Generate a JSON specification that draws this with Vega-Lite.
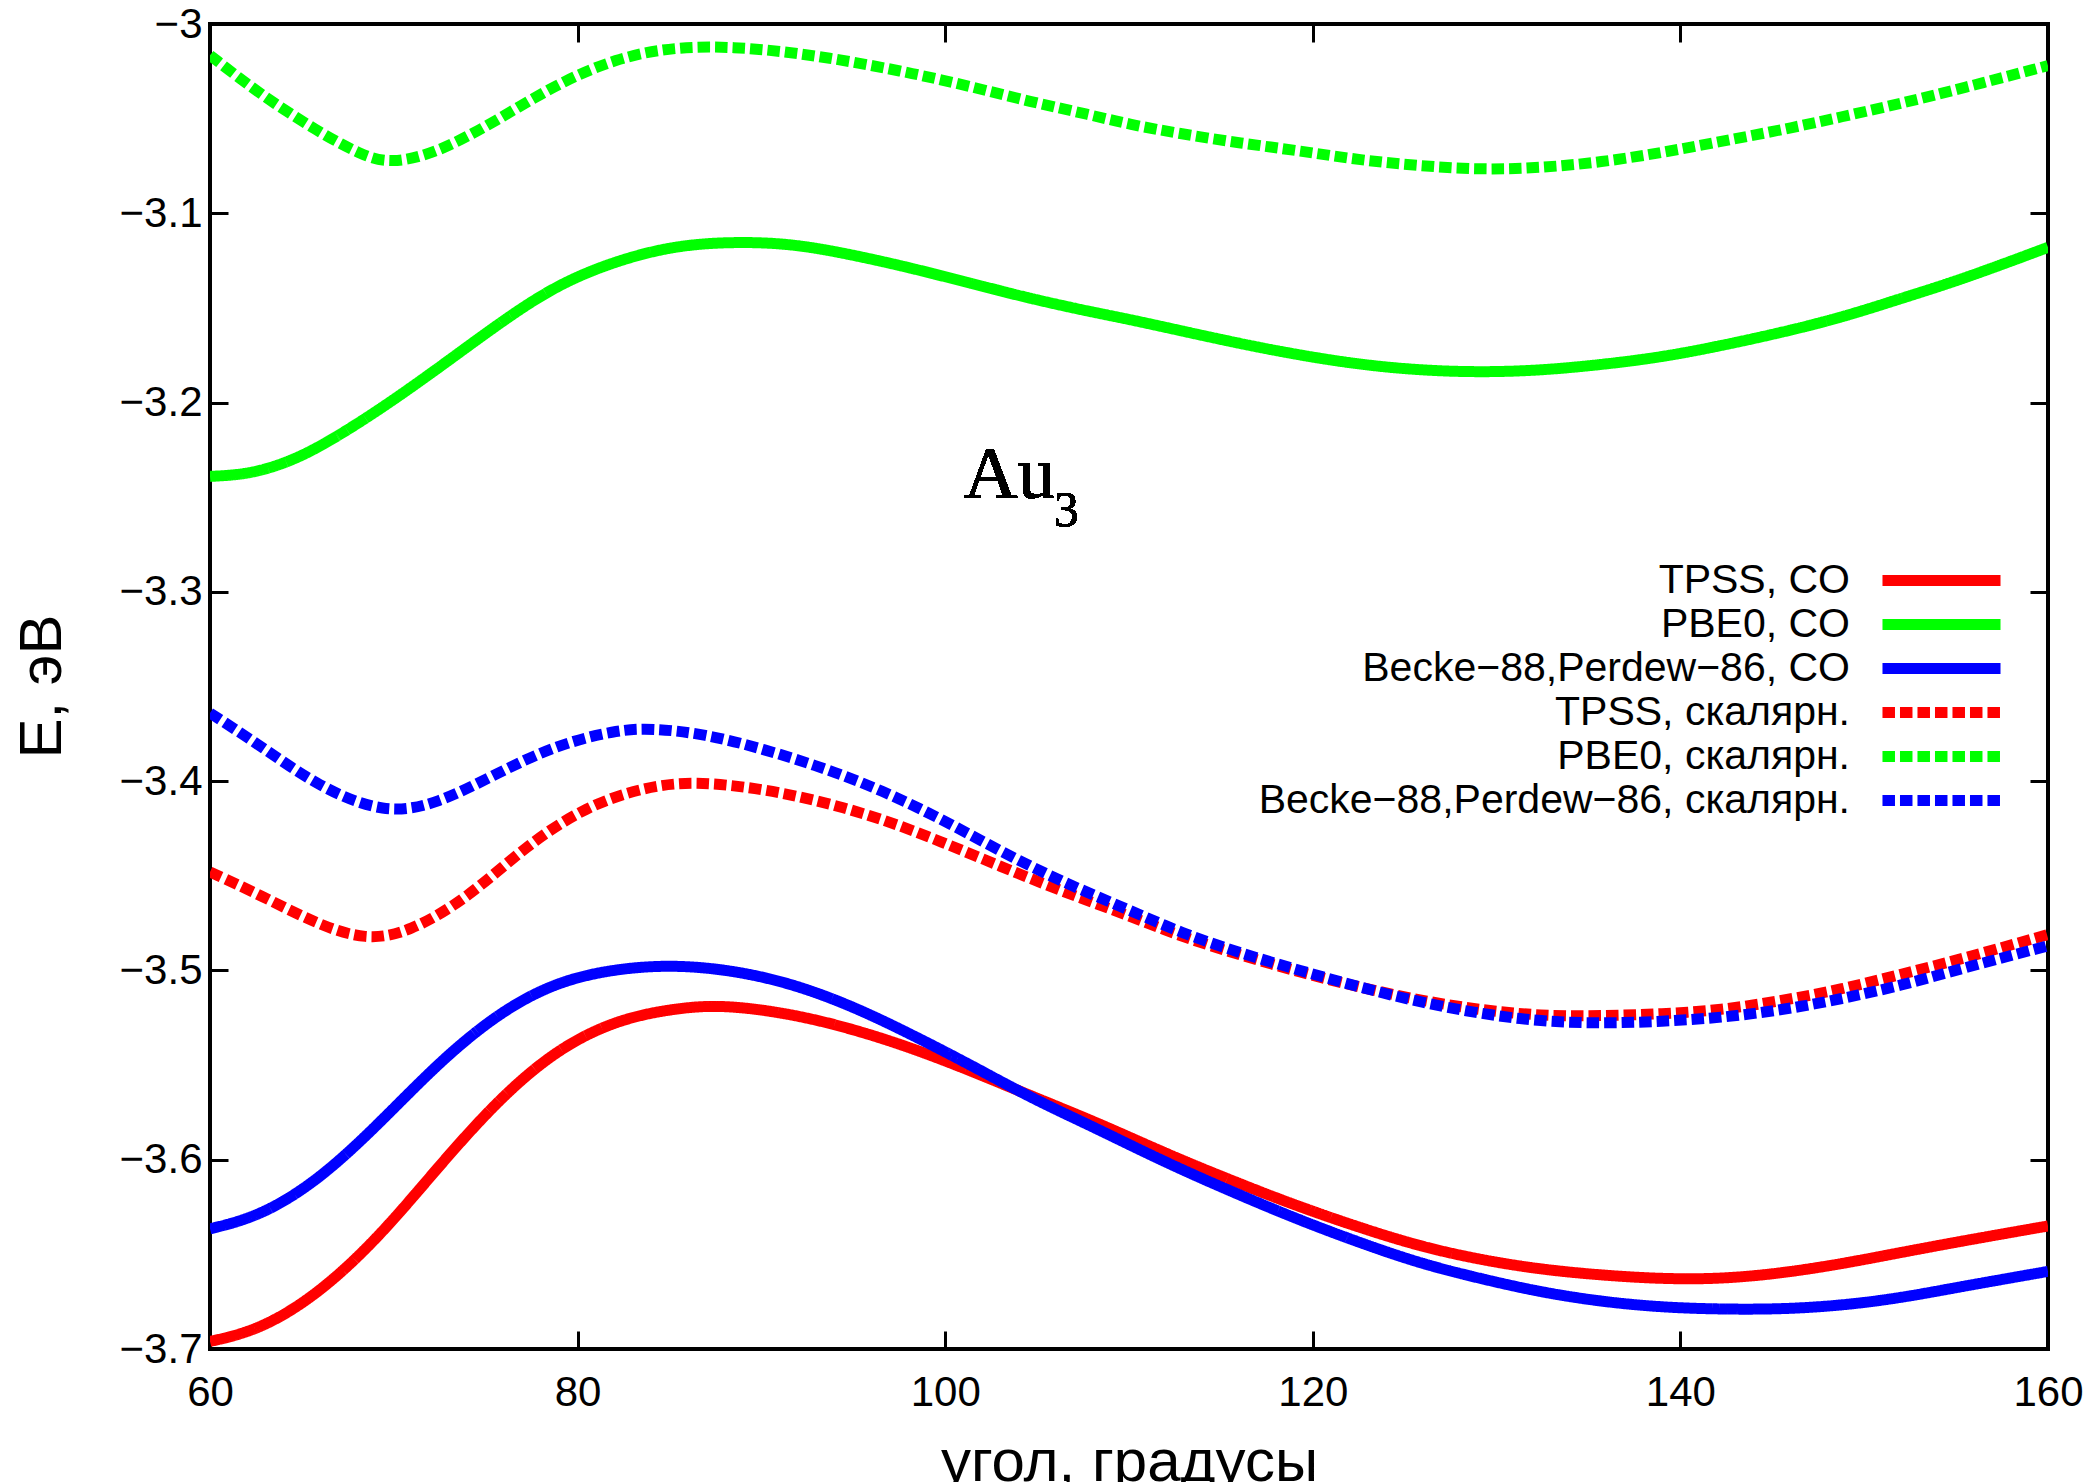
{
  "$schema": "https://vega.github.io/schema/vega-lite/v6.json",
  "width": 1838,
  "height": 1325,
  "autosize": {"type": "none"},
  "padding": {"left": 210, "top": 24, "right": 51, "bottom": 133},
  "background": "white",
  "config": {
    "view": {"stroke": "black", "strokeWidth": 4},
    "axis": {
      "domain": false,
      "grid": false,
      "labelFlush": false,
      "tickColor": "black",
      "tickWidth": 3,
      "tickSize": -18,
      "labelFont": "Liberation Sans",
      "labelFontSize": 42,
      "labelColor": "black",
      "titleFont": "Liberation Sans",
      "titleFontSize": 60,
      "titleFontWeight": "normal",
      "titleColor": "black"
    },
    "legend": {
      "labelFont": "Liberation Sans",
      "labelFontSize": 41,
      "labelColor": "black",
      "labelLimit": 0
    }
  },
  "data": {
    "values": [
      {"s": "TPSS, CO", "x": 60, "e": -3.696},
      {"s": "TPSS, CO", "x": 62.7, "e": -3.690},
      {"s": "TPSS, CO", "x": 65.9, "e": -3.671},
      {"s": "TPSS, CO", "x": 69.2, "e": -3.641},
      {"s": "TPSS, CO", "x": 72.4, "e": -3.604},
      {"s": "TPSS, CO", "x": 75.6, "e": -3.569},
      {"s": "TPSS, CO", "x": 78.8, "e": -3.542},
      {"s": "TPSS, CO", "x": 82.1, "e": -3.526},
      {"s": "TPSS, CO", "x": 85.3, "e": -3.520},
      {"s": "TPSS, CO", "x": 87.9, "e": -3.518},
      {"s": "TPSS, CO", "x": 91.7, "e": -3.523},
      {"s": "TPSS, CO", "x": 95, "e": -3.531},
      {"s": "TPSS, CO", "x": 98.2, "e": -3.541},
      {"s": "TPSS, CO", "x": 101.4, "e": -3.553},
      {"s": "TPSS, CO", "x": 104.6, "e": -3.566},
      {"s": "TPSS, CO", "x": 107.9, "e": -3.579},
      {"s": "TPSS, CO", "x": 110, "e": -3.588},
      {"s": "TPSS, CO", "x": 112.8, "e": -3.600},
      {"s": "TPSS, CO", "x": 116.1, "e": -3.613},
      {"s": "TPSS, CO", "x": 119.3, "e": -3.625},
      {"s": "TPSS, CO", "x": 122.6, "e": -3.636},
      {"s": "TPSS, CO", "x": 125.9, "e": -3.646},
      {"s": "TPSS, CO", "x": 129.2, "e": -3.653},
      {"s": "TPSS, CO", "x": 132.4, "e": -3.658},
      {"s": "TPSS, CO", "x": 135.7, "e": -3.661},
      {"s": "TPSS, CO", "x": 139, "e": -3.663},
      {"s": "TPSS, CO", "x": 142.2, "e": -3.663},
      {"s": "TPSS, CO", "x": 145.5, "e": -3.660},
      {"s": "TPSS, CO", "x": 148.8, "e": -3.655},
      {"s": "TPSS, CO", "x": 152, "e": -3.649},
      {"s": "TPSS, CO", "x": 155.3, "e": -3.643},
      {"s": "TPSS, CO", "x": 160, "e": -3.635},

      {"s": "PBE0, CO", "x": 60, "e": -3.239},
      {"s": "PBE0, CO", "x": 62, "e": -3.238},
      {"s": "PBE0, CO", "x": 64, "e": -3.2325},
      {"s": "PBE0, CO", "x": 66, "e": -3.2235},
      {"s": "PBE0, CO", "x": 69.2, "e": -3.204},
      {"s": "PBE0, CO", "x": 72.4, "e": -3.182},
      {"s": "PBE0, CO", "x": 75.6, "e": -3.159},
      {"s": "PBE0, CO", "x": 78.8, "e": -3.138},
      {"s": "PBE0, CO", "x": 82.1, "e": -3.125},
      {"s": "PBE0, CO", "x": 85.3, "e": -3.117},
      {"s": "PBE0, CO", "x": 88.5, "e": -3.115},
      {"s": "PBE0, CO", "x": 91.7, "e": -3.116},
      {"s": "PBE0, CO", "x": 95, "e": -3.122},
      {"s": "PBE0, CO", "x": 98.2, "e": -3.129},
      {"s": "PBE0, CO", "x": 101.4, "e": -3.137},
      {"s": "PBE0, CO", "x": 104.6, "e": -3.145},
      {"s": "PBE0, CO", "x": 107.9, "e": -3.152},
      {"s": "PBE0, CO", "x": 110, "e": -3.156},
      {"s": "PBE0, CO", "x": 112.8, "e": -3.162},
      {"s": "PBE0, CO", "x": 116.1, "e": -3.169},
      {"s": "PBE0, CO", "x": 119.3, "e": -3.175},
      {"s": "PBE0, CO", "x": 122.6, "e": -3.180},
      {"s": "PBE0, CO", "x": 125.9, "e": -3.183},
      {"s": "PBE0, CO", "x": 129.2, "e": -3.184},
      {"s": "PBE0, CO", "x": 132.4, "e": -3.183},
      {"s": "PBE0, CO", "x": 135.7, "e": -3.180},
      {"s": "PBE0, CO", "x": 139, "e": -3.176},
      {"s": "PBE0, CO", "x": 142.2, "e": -3.170},
      {"s": "PBE0, CO", "x": 145.5, "e": -3.163},
      {"s": "PBE0, CO", "x": 148.8, "e": -3.155},
      {"s": "PBE0, CO", "x": 152, "e": -3.145},
      {"s": "PBE0, CO", "x": 155.3, "e": -3.135},
      {"s": "PBE0, CO", "x": 160, "e": -3.118},

      {"s": "Becke−88,Perdew−86, CO", "x": 60, "e": -3.6365},
      {"s": "Becke−88,Perdew−86, CO", "x": 62.7, "e": -3.630},
      {"s": "Becke−88,Perdew−86, CO", "x": 65.9, "e": -3.611},
      {"s": "Becke−88,Perdew−86, CO", "x": 69.2, "e": -3.581},
      {"s": "Becke−88,Perdew−86, CO", "x": 72.4, "e": -3.549},
      {"s": "Becke−88,Perdew−86, CO", "x": 75.6, "e": -3.523},
      {"s": "Becke−88,Perdew−86, CO", "x": 78.8, "e": -3.506},
      {"s": "Becke−88,Perdew−86, CO", "x": 82.1, "e": -3.499},
      {"s": "Becke−88,Perdew−86, CO", "x": 85.3, "e": -3.497},
      {"s": "Becke−88,Perdew−86, CO", "x": 88.5, "e": -3.500},
      {"s": "Becke−88,Perdew−86, CO", "x": 91.7, "e": -3.507},
      {"s": "Becke−88,Perdew−86, CO", "x": 95, "e": -3.519},
      {"s": "Becke−88,Perdew−86, CO", "x": 98.2, "e": -3.534},
      {"s": "Becke−88,Perdew−86, CO", "x": 101.4, "e": -3.550},
      {"s": "Becke−88,Perdew−86, CO", "x": 104.6, "e": -3.567},
      {"s": "Becke−88,Perdew−86, CO", "x": 107.9, "e": -3.582},
      {"s": "Becke−88,Perdew−86, CO", "x": 110, "e": -3.592},
      {"s": "Becke−88,Perdew−86, CO", "x": 112.8, "e": -3.605},
      {"s": "Becke−88,Perdew−86, CO", "x": 116.1, "e": -3.619},
      {"s": "Becke−88,Perdew−86, CO", "x": 119.3, "e": -3.632},
      {"s": "Becke−88,Perdew−86, CO", "x": 122.6, "e": -3.644},
      {"s": "Becke−88,Perdew−86, CO", "x": 125.9, "e": -3.655},
      {"s": "Becke−88,Perdew−86, CO", "x": 129.2, "e": -3.663},
      {"s": "Becke−88,Perdew−86, CO", "x": 132.4, "e": -3.670},
      {"s": "Becke−88,Perdew−86, CO", "x": 135.7, "e": -3.675},
      {"s": "Becke−88,Perdew−86, CO", "x": 139, "e": -3.678},
      {"s": "Becke−88,Perdew−86, CO", "x": 142.2, "e": -3.679},
      {"s": "Becke−88,Perdew−86, CO", "x": 145.5, "e": -3.679},
      {"s": "Becke−88,Perdew−86, CO", "x": 148.8, "e": -3.677},
      {"s": "Becke−88,Perdew−86, CO", "x": 152, "e": -3.673},
      {"s": "Becke−88,Perdew−86, CO", "x": 155.3, "e": -3.667},
      {"s": "Becke−88,Perdew−86, CO", "x": 160, "e": -3.659},

      {"s": "TPSS, скалярн.", "x": 60, "e": -3.448},
      {"s": "TPSS, скалярн.", "x": 62.7, "e": -3.460},
      {"s": "TPSS, скалярн.", "x": 65.9, "e": -3.476},
      {"s": "TPSS, скалярн.", "x": 68.5, "e": -3.484},
      {"s": "TPSS, скалярн.", "x": 70.8, "e": -3.480},
      {"s": "TPSS, скалярн.", "x": 74, "e": -3.462},
      {"s": "TPSS, скалярн.", "x": 77.2, "e": -3.434},
      {"s": "TPSS, скалярн.", "x": 80.5, "e": -3.413},
      {"s": "TPSS, скалярн.", "x": 83.7, "e": -3.403},
      {"s": "TPSS, скалярн.", "x": 86.3, "e": -3.400},
      {"s": "TPSS, скалярн.", "x": 90.1, "e": -3.404},
      {"s": "TPSS, скалярн.", "x": 93.4, "e": -3.411},
      {"s": "TPSS, скалярн.", "x": 96.6, "e": -3.420},
      {"s": "TPSS, скалярн.", "x": 99.8, "e": -3.432},
      {"s": "TPSS, скалярн.", "x": 103, "e": -3.445},
      {"s": "TPSS, скалярн.", "x": 106.3, "e": -3.458},
      {"s": "TPSS, скалярн.", "x": 110, "e": -3.471},
      {"s": "TPSS, скалярн.", "x": 112.8, "e": -3.482},
      {"s": "TPSS, скалярн.", "x": 116.1, "e": -3.492},
      {"s": "TPSS, скалярн.", "x": 119.3, "e": -3.501},
      {"s": "TPSS, скалярн.", "x": 122.6, "e": -3.509},
      {"s": "TPSS, скалярн.", "x": 125.9, "e": -3.516},
      {"s": "TPSS, скалярн.", "x": 129.2, "e": -3.521},
      {"s": "TPSS, скалярн.", "x": 132.4, "e": -3.524},
      {"s": "TPSS, скалярн.", "x": 135.7, "e": -3.524},
      {"s": "TPSS, скалярн.", "x": 139, "e": -3.523},
      {"s": "TPSS, скалярн.", "x": 142.2, "e": -3.521},
      {"s": "TPSS, скалярн.", "x": 145.5, "e": -3.516},
      {"s": "TPSS, скалярн.", "x": 148.8, "e": -3.510},
      {"s": "TPSS, скалярн.", "x": 152, "e": -3.502},
      {"s": "TPSS, скалярн.", "x": 155.3, "e": -3.494},
      {"s": "TPSS, скалярн.", "x": 160, "e": -3.481},

      {"s": "PBE0, скалярн.", "x": 60, "e": -3.0165},
      {"s": "PBE0, скалярн.", "x": 62.7, "e": -3.037},
      {"s": "PBE0, скалярн.", "x": 65.9, "e": -3.057},
      {"s": "PBE0, скалярн.", "x": 68.2, "e": -3.069},
      {"s": "PBE0, скалярн.", "x": 69.8, "e": -3.074},
      {"s": "PBE0, скалярн.", "x": 72.4, "e": -3.068},
      {"s": "PBE0, скалярн.", "x": 75.6, "e": -3.051},
      {"s": "PBE0, скалярн.", "x": 78.8, "e": -3.032},
      {"s": "PBE0, скалярн.", "x": 82.1, "e": -3.018},
      {"s": "PBE0, скалярн.", "x": 85.3, "e": -3.012},
      {"s": "PBE0, скалярн.", "x": 88.5, "e": -3.012},
      {"s": "PBE0, скалярн.", "x": 91.7, "e": -3.015},
      {"s": "PBE0, скалярн.", "x": 95, "e": -3.020},
      {"s": "PBE0, скалярн.", "x": 98.2, "e": -3.026},
      {"s": "PBE0, скалярн.", "x": 101.4, "e": -3.033},
      {"s": "PBE0, скалярн.", "x": 104.6, "e": -3.041},
      {"s": "PBE0, скалярн.", "x": 107.9, "e": -3.048},
      {"s": "PBE0, скалярн.", "x": 110, "e": -3.053},
      {"s": "PBE0, скалярн.", "x": 112.8, "e": -3.058},
      {"s": "PBE0, скалярн.", "x": 116.1, "e": -3.063},
      {"s": "PBE0, скалярн.", "x": 119.3, "e": -3.067},
      {"s": "PBE0, скалярн.", "x": 122.6, "e": -3.072},
      {"s": "PBE0, скалярн.", "x": 125.9, "e": -3.075},
      {"s": "PBE0, скалярн.", "x": 129.2, "e": -3.077},
      {"s": "PBE0, скалярн.", "x": 132.4, "e": -3.076},
      {"s": "PBE0, скалярн.", "x": 135.7, "e": -3.073},
      {"s": "PBE0, скалярн.", "x": 139, "e": -3.068},
      {"s": "PBE0, скалярн.", "x": 142.2, "e": -3.062},
      {"s": "PBE0, скалярн.", "x": 145.5, "e": -3.056},
      {"s": "PBE0, скалярн.", "x": 148.8, "e": -3.049},
      {"s": "PBE0, скалярн.", "x": 152, "e": -3.042},
      {"s": "PBE0, скалярн.", "x": 155.3, "e": -3.034},
      {"s": "PBE0, скалярн.", "x": 160, "e": -3.022},

      {"s": "Becke−88,Perdew−86, скалярн.", "x": 60, "e": -3.364},
      {"s": "Becke−88,Perdew−86, скалярн.", "x": 62.7, "e": -3.381},
      {"s": "Becke−88,Perdew−86, скалярн.", "x": 65.9, "e": -3.403},
      {"s": "Becke−88,Perdew−86, скалярн.", "x": 69.5, "e": -3.4175},
      {"s": "Becke−88,Perdew−86, скалярн.", "x": 72.4, "e": -3.412},
      {"s": "Becke−88,Perdew−86, скалярн.", "x": 75.6, "e": -3.396},
      {"s": "Becke−88,Perdew−86, скалярн.", "x": 78.8, "e": -3.381},
      {"s": "Becke−88,Perdew−86, скалярн.", "x": 82.1, "e": -3.373},
      {"s": "Becke−88,Perdew−86, скалярн.", "x": 84, "e": -3.372},
      {"s": "Becke−88,Perdew−86, скалярн.", "x": 86.9, "e": -3.375},
      {"s": "Becke−88,Perdew−86, скалярн.", "x": 90.1, "e": -3.383},
      {"s": "Becke−88,Perdew−86, скалярн.", "x": 93.4, "e": -3.393},
      {"s": "Becke−88,Perdew−86, скалярн.", "x": 96.6, "e": -3.405},
      {"s": "Becke−88,Perdew−86, скалярн.", "x": 99.8, "e": -3.420},
      {"s": "Becke−88,Perdew−86, скалярн.", "x": 103, "e": -3.437},
      {"s": "Becke−88,Perdew−86, скалярн.", "x": 106.3, "e": -3.453},
      {"s": "Becke−88,Perdew−86, скалярн.", "x": 110, "e": -3.468},
      {"s": "Becke−88,Perdew−86, скалярн.", "x": 112.8, "e": -3.480},
      {"s": "Becke−88,Perdew−86, скалярн.", "x": 116.1, "e": -3.491},
      {"s": "Becke−88,Perdew−86, скалярн.", "x": 119.3, "e": -3.500},
      {"s": "Becke−88,Perdew−86, скалярн.", "x": 122.6, "e": -3.509},
      {"s": "Becke−88,Perdew−86, скалярн.", "x": 125.9, "e": -3.517},
      {"s": "Becke−88,Perdew−86, скалярн.", "x": 129.2, "e": -3.523},
      {"s": "Becke−88,Perdew−86, скалярн.", "x": 132.4, "e": -3.527},
      {"s": "Becke−88,Perdew−86, скалярн.", "x": 135.7, "e": -3.528},
      {"s": "Becke−88,Perdew−86, скалярн.", "x": 139, "e": -3.527},
      {"s": "Becke−88,Perdew−86, скалярн.", "x": 142.2, "e": -3.525},
      {"s": "Becke−88,Perdew−86, скалярн.", "x": 145.5, "e": -3.521},
      {"s": "Becke−88,Perdew−86, скалярн.", "x": 148.8, "e": -3.515},
      {"s": "Becke−88,Perdew−86, скалярн.", "x": 152, "e": -3.508},
      {"s": "Becke−88,Perdew−86, скалярн.", "x": 155.3, "e": -3.499},
      {"s": "Becke−88,Perdew−86, скалярн.", "x": 160, "e": -3.487}
    ]
  },
  "resolve": {"axis": {"x": "independent", "y": "independent"}},
  "layer": [
    {
      "mark": {"type": "line", "interpolate": "basis", "strokeWidth": 11, "strokeCap": "butt", "clip": true},
      "encoding": {
        "x": {
          "field": "x", "type": "quantitative",
          "scale": {"domain": [60, 160], "nice": false, "zero": false},
          "axis": {"orient": "bottom", "values": [60, 80, 100, 120, 140, 160], "labelPadding": 41, "title": "угол, градусы", "titleY": 131, "titleBaseline": "alphabetic"}
        },
        "y": {
          "field": "e", "type": "quantitative",
          "scale": {"domain": [-3.7, -3], "nice": false, "zero": false},
          "axis": {"orient": "left", "values": [-3.7, -3.6, -3.5, -3.4, -3.3, -3.2, -3.1, -3], "format": "~g", "labelPadding": 26, "title": "E, эВ", "titleX": -150, "titleY": 662, "titleBaseline": "alphabetic", "titleAlign": "center", "titleAngle": -90}
        },
        "color": {
          "field": "s", "type": "nominal",
          "scale": {
            "domain": ["TPSS, CO", "PBE0, CO", "Becke−88,Perdew−86, CO", "TPSS, скалярн.", "PBE0, скалярн.", "Becke−88,Perdew−86, скалярн."],
            "range": ["#ff0000", "#00ff00", "#0000ff", "#ff0000", "#00ff00", "#0000ff"]
          },
          "legend": {"orient": "none", "legendX": 1711, "legendY": 536, "title": null, "padding": 0, "symbolType": "M-6,0H6", "symbolSize": 387, "symbolStrokeWidth": 11, "labelAlign": "right", "labelOffset": -112, "rowPadding": -1}
        },
        "strokeDash": {
          "field": "s", "type": "nominal",
          "scale": {
            "domain": ["TPSS, CO", "PBE0, CO", "Becke−88,Perdew−86, CO", "TPSS, скалярн.", "PBE0, скалярн.", "Becke−88,Perdew−86, скалярн."],
            "range": [[1, 0], [1, 0], [1, 0], [12.5, 5], [12.5, 5], [12.5, 5]]
          },
          "legend": {"orient": "none", "legendX": 1711, "legendY": 536, "title": null, "padding": 0, "symbolType": "M-6,0H6", "symbolSize": 387, "symbolStrokeWidth": 11, "labelAlign": "right", "labelOffset": -112, "rowPadding": -1}
        }
      }
    },
    {
      "mark": {"type": "text", "text": "Au", "font": "Liberation Serif", "fontSize": 75, "align": "left", "baseline": "alphabetic", "color": "black"},
      "encoding": {
        "x": {"datum": 101.0, "type": "quantitative", "scale": {"domain": [60, 160], "nice": false, "zero": false},
          "axis": {"orient": "top", "values": [60, 80, 100, 120, 140, 160], "labels": false, "title": null}},
        "y": {"datum": -3.2504, "type": "quantitative", "scale": {"domain": [-3.7, -3], "nice": false, "zero": false},
          "axis": {"orient": "right", "values": [-3.7, -3.6, -3.5, -3.4, -3.3, -3.2, -3.1, -3], "labels": false, "title": null}}
      }
    },
    {
      "mark": {"type": "text", "text": "3", "font": "Liberation Serif", "fontSize": 50, "align": "left", "baseline": "alphabetic", "color": "black"},
      "encoding": {
        "x": {"datum": 105.9, "type": "quantitative", "axis": null},
        "y": {"datum": -3.265, "type": "quantitative", "axis": null}
      }
    }
  ]
}
